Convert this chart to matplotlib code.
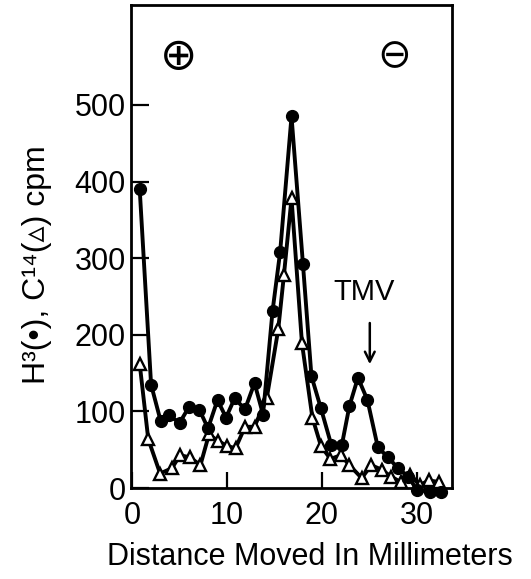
import numpy as np
import matplotlib
matplotlib.use('Agg')
import matplotlib.pyplot as plt

plt.rcParams['font.family'] = ['Liberation Sans', 'DejaVu Sans']

# H3 (filled circles), distance in mm and cpm
h3_x = [0.8, 2.0, 3.0, 3.9, 5.0, 6.0, 7.1, 8.0, 9.0, 9.9, 10.8, 11.9, 12.9, 13.8,
        14.8, 15.6, 16.8, 18.0, 18.9, 19.9, 21.0, 22.1, 22.9, 23.8, 24.8, 25.9,
        27.0, 28.0, 29.1, 30.0, 31.4, 32.6]
h3_y = [390, 135, 88, 95, 85, 106, 102, 78, 115, 92, 117, 103, 137, 96,
        231, 308, 485, 293, 146, 104, 56, 56, 107, 144, 115, 53,
        40, 26, 15, -2, -5, -5]

# C14 (open triangles)
c14_x = [0.8, 1.7, 2.95, 4.2, 5.05, 6.1, 7.2, 8.1, 9.0, 10.0, 10.9, 11.9, 12.9,
         14.2, 15.4, 16.0, 16.8, 17.9, 19.0, 19.9, 20.9, 22.0, 22.9, 24.2, 25.2,
         26.3, 27.3, 28.3, 29.3, 30.3, 31.3, 32.3]
c14_y = [162, 64, 19, 26, 43, 40, 30, 70, 62, 55, 52, 80, 80,
         118, 207, 278, 378, 189, 92, 55, 38, 43, 30, 13, 30,
         24, 15, 8, 17, 4, 10, 8]

x_ticks = [0, 10, 20, 30]
y_ticks = [0, 100, 200, 300, 400, 500]

fig = plt.figure(figsize=(5.31, 5.79), dpi=100)
ax = fig.add_axes([0.247, 0.157, 0.604, 0.834])

ax.plot(c14_x, c14_y, color='black', lw=2.8, marker='^', ms=8.5,
        mfc='white', mec='black', mew=1.7, clip_on=False, zorder=3)
ax.plot(h3_x, h3_y, color='black', lw=2.8, marker='o', ms=8.5,
        mfc='black', mec='black', clip_on=False, zorder=4)

ax.set_xlim(-0.1, 33.7)
ax.set_ylim(0, 630)
ax.set_xticks(x_ticks)
ax.set_yticks(y_ticks)

for s in ax.spines.values():
    s.set_linewidth(2.0)
ax.tick_params(axis='y', direction='in', length=13, width=1.6, labelsize=22, pad=4)
ax.tick_params(axis='x', direction='in', length=11.5, width=1.6, labelsize=22, pad=9)

ax.set_xlabel('Distance Moved In Millimeters', fontsize=22)
ax.xaxis.set_label_coords(0.558, -0.143)
ax.xaxis.label.set_verticalalignment('center')

ax.set_ylabel('H\u00b3(\u2022), C\u00b9\u2074(\u25b5) cpm', fontsize=23)
ax.yaxis.set_label_coords(-0.293, 0.462)
ax.yaxis.label.set_verticalalignment('center')

# electrode signs
ax.text(4.85, 563, '\u2295', fontsize=32, ha='center', va='center', family='DejaVu Sans')
ax.text(27.6, 563, '\u2296', fontsize=29, ha='center', va='center', family='DejaVu Sans')

# TMV marker
ax.text(24.4, 256, 'TMV', fontsize=21, ha='center', va='center')
ax.annotate('', xy=(25.05, 158), xytext=(25.05, 219),
            arrowprops=dict(arrowstyle='->,head_length=0.7,head_width=0.35',
                            color='black', lw=1.8))

fig.savefig('out.png', dpi=100)
